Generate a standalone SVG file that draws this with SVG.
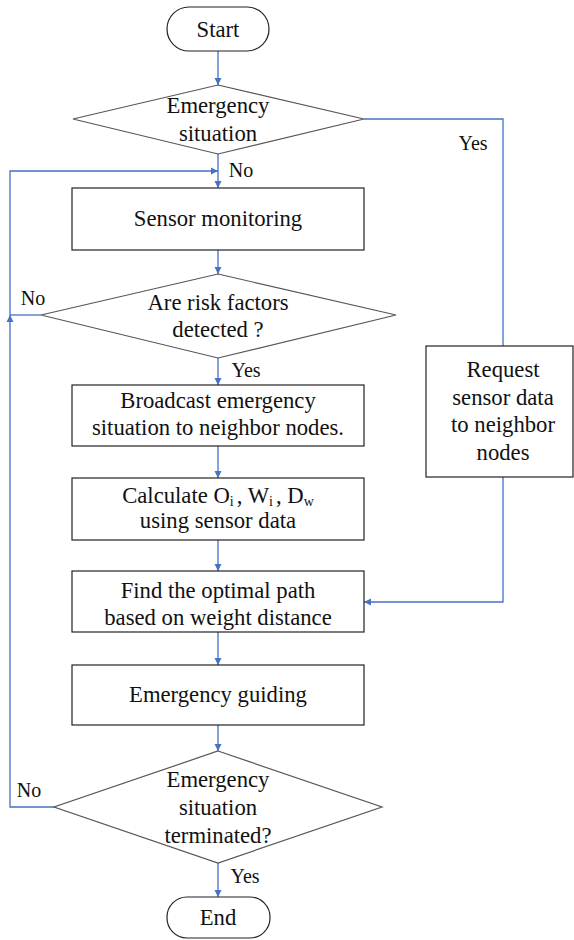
<svg xmlns="http://www.w3.org/2000/svg" width="574" height="940" viewBox="0 0 574 940">
<style>
.n{fill:#fff;stroke:#222;stroke-width:1.2}
.d{fill:#fff;stroke:#555;stroke-width:1.2}
.c{fill:none;stroke:#4472C4;stroke-width:1.3}
text{font-family:'Liberation Serif','DejaVu Serif',serif;font-size:22.7px;fill:#111;text-anchor:middle}
.l{font-size:20px}
.s{font-size:14px}
</style>
<defs>
<marker id="ah" markerUnits="userSpaceOnUse" markerWidth="8" markerHeight="8" refX="7" refY="4" orient="auto">
<path d="M0,0.5 L7,4 L0,7.5 Z" fill="#4472C4"/>
</marker>
</defs>
<rect width="574" height="940" fill="#fff"/>
<g id="connectors">
<path class="c" d="M218,51 V85" marker-end="url(#ah)"/>
<path class="c" d="M364,119 H503 V346"/>
<path class="c" d="M218,154 V188" marker-end="url(#ah)"/>
<path class="c" d="M10,315 V171 H218" marker-end="url(#ah)"/>
<path class="c" d="M41,315 H10"/>
<path class="c" d="M218,250 V274" marker-end="url(#ah)"/>
<path class="c" d="M218,358 V385" marker-end="url(#ah)"/>
<path class="c" d="M218,446 V478" marker-end="url(#ah)"/>
<path class="c" d="M218,540 V571" marker-end="url(#ah)"/>
<path class="c" d="M503,477 V602 H364" marker-end="url(#ah)"/>
<path class="c" d="M218,632 V665" marker-end="url(#ah)"/>
<path class="c" d="M218,725 V751" marker-end="url(#ah)"/>
<path class="c" d="M54,807 H10 V315" marker-end="url(#ah)"/>
<path class="c" d="M218,863 V897" marker-end="url(#ah)"/>
<text class="l" x="473" y="150">Yes</text>
<text class="l" x="241" y="177">No</text>
<text class="l" x="33" y="305">No</text>
<text class="l" x="246" y="377">Yes</text>
<text class="l" x="29" y="797">No</text>
<text class="l" x="245" y="883">Yes</text>
</g>
<g id="start">
<rect class="n" x="167" y="7" width="102" height="44" rx="22"/>
<text x="218" y="37">Start</text>
</g>
<g id="emergency">
<polygon class="d" points="218,85 364,119 218,154 73,119"/>
<text x="218" y="113">Emergency</text>
<text x="218" y="141">situation</text>
</g>
<g id="sensor">
<rect class="n" x="72" y="188" width="292" height="62"/>
<text x="218" y="226">Sensor monitoring</text>
</g>
<g id="risk">
<polygon class="d" points="218,274 396,315 218,358 41,315"/>
<text x="218" y="310">Are risk factors</text>
<text x="218" y="337">detected ?</text>
</g>
<g id="broadcast">
<rect class="n" x="72" y="385" width="292" height="61"/>
<text x="218" y="408">Broadcast emergency</text>
<text x="218" y="435">situation to neighbor nodes.</text>
</g>
<g id="calculate">
<rect class="n" x="72" y="478" width="292" height="62"/>
<text x="218" y="503">Calculate O<tspan class="s" dy="3">i</tspan><tspan dx="3" dy="-3">, W</tspan><tspan class="s" dy="3">i</tspan><tspan dx="3" dy="-3">, D</tspan><tspan class="s" dy="3">w</tspan></text>
<text x="218" y="528">using sensor data</text>
</g>
<g id="request">
<rect class="n" x="426" y="346" width="147" height="131"/>
<text x="503" y="377">Request</text>
<text x="503" y="405">sensor data</text>
<text x="503" y="432">to neighbor</text>
<text x="503" y="460">nodes</text>
</g>
<g id="find">
<rect class="n" x="72" y="571" width="292" height="61"/>
<text x="218" y="598">Find the optimal path</text>
<text x="218" y="625">based on weight distance</text>
</g>
<g id="guiding">
<rect class="n" x="72" y="665" width="292" height="60"/>
<text x="218" y="702">Emergency guiding</text>
</g>
<g id="terminated">
<polygon class="d" points="218,751 382,807 218,863 54,807"/>
<text x="218" y="787">Emergency</text>
<text x="218" y="815">situation</text>
<text x="218" y="843">terminated?</text>
</g>
<g id="end">
<rect class="n" x="167" y="897" width="103" height="41" rx="20"/>
<text x="218" y="925">End</text>
</g>
</svg>
